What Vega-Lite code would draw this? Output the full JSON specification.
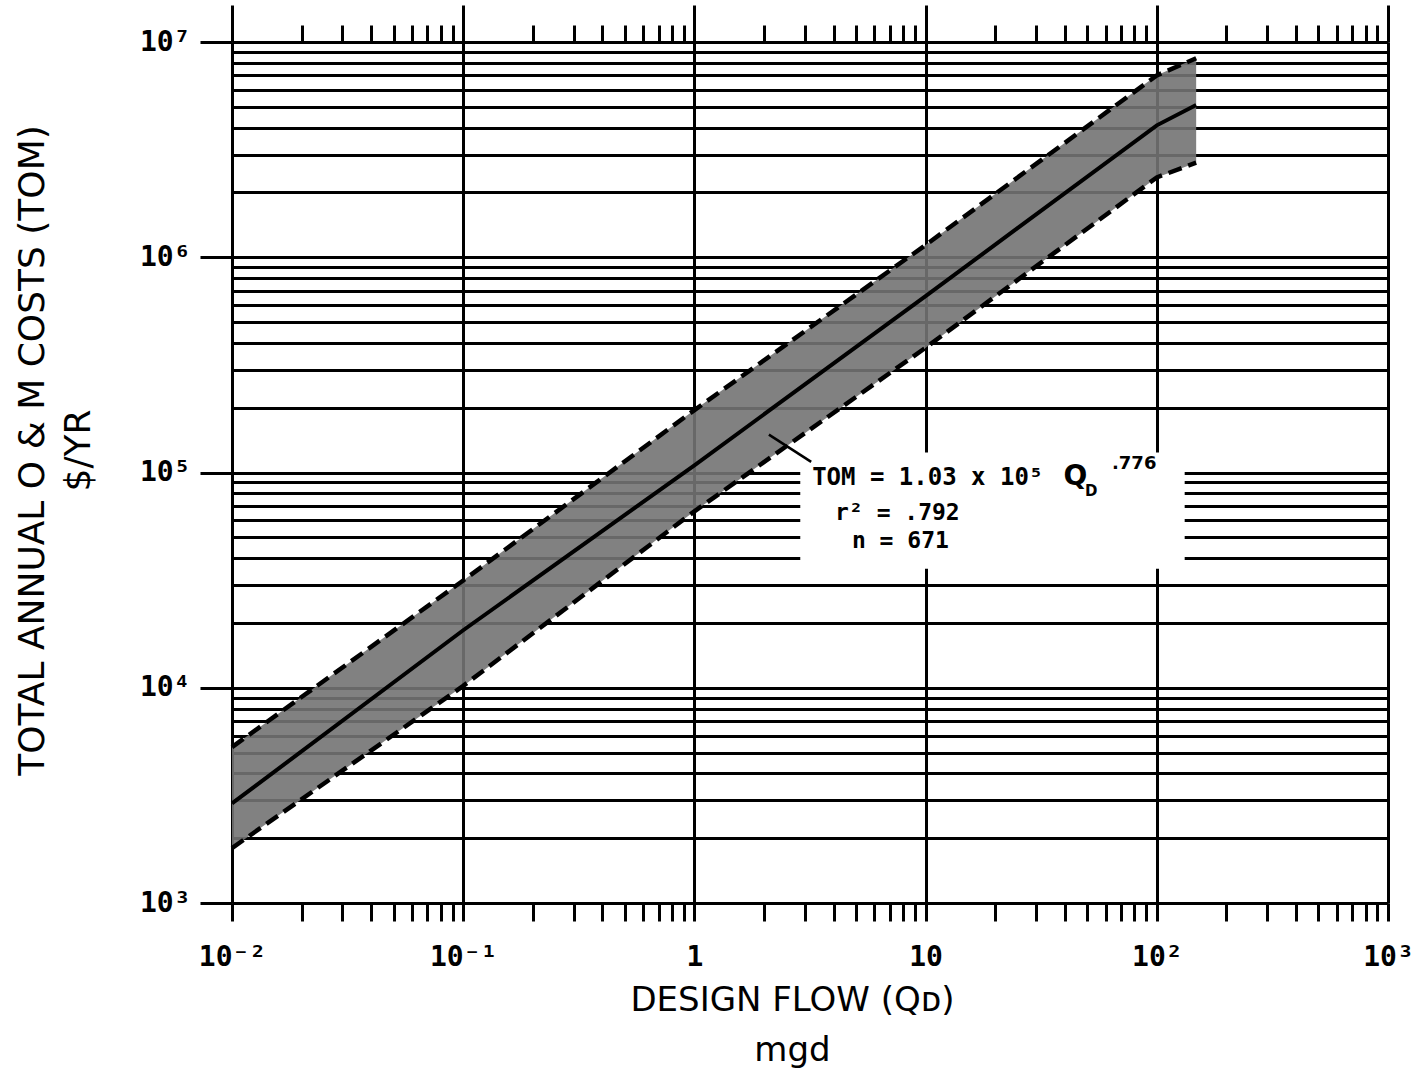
{
  "$schema": "https://vega.github.io/schema/vega-lite/v6.json",
  "width": 1156,
  "height": 861,
  "autosize": {"type": "none"},
  "padding": {"left": 232, "top": 42, "right": 39, "bottom": 168},
  "background": "white",
  "config": {"view": {"stroke": null}},
  "datasets": {
    "band": [
      {"Q": 0.01, "lo": 1800, "mid": 2900, "hi": 5300},
      {"Q": 0.1, "lo": 10200, "mid": 18500, "hi": 31500},
      {"Q": 1, "lo": 66000, "mid": 108000, "hi": 195000},
      {"Q": 10, "lo": 380000, "mid": 660000, "hi": 1140000},
      {"Q": 100, "lo": 2350000, "mid": 4100000, "hi": 7000000},
      {"Q": 148, "lo": 2750000, "mid": 5100000, "hi": 8400000}
    ]
  },
  "layer": [
    {
      "data": {"name": "band"},
      "mark": {"type": "area", "color": "#737373", "opacity": 0.9},
      "encoding": {
        "x": {
          "field": "Q", "type": "quantitative",
          "scale": {"type": "log", "domain": [0.01, 1000]},
          "axis": {
            "orient": "bottom",
            "values": [0.01,0.02,0.03,0.04,0.05,0.06,0.07,0.08,0.09,0.1,0.2,0.3,0.4,0.5,0.6,0.7,0.8,0.9,1,2,3,4,5,6,7,8,9,10,20,30,40,50,60,70,80,90,100,200,300,400,500,600,700,800,900,1000],
            "domain": false,
            "grid": true,
            "gridColor": "black",
            "gridWidth": 3,
            "gridOpacity": {"condition": {"test": "abs(log(datum.value)/LN10 - round(log(datum.value)/LN10)) < 0.001", "value": 1}, "value": 0},
            "ticks": true,
            "tickColor": "black",
            "tickWidth": 3,
            "tickSize": 18,
            "labelExpr": "abs(log(datum.value)/LN10 - round(log(datum.value)/LN10)) > 0.001 ? '' : round(log(datum.value)/LN10) == -2 ? '10⁻²' : round(log(datum.value)/LN10) == -1 ? '10⁻¹' : round(log(datum.value)/LN10) == 0 ? '1' : round(log(datum.value)/LN10) == 1 ? '10' : round(log(datum.value)/LN10) == 2 ? '10²' : '10³'",
            "labelFont": "DejaVu Sans Mono",
            "labelFontSize": 28,
            "labelFontWeight": "bold",
            "labelColor": "black",
            "labelBaseline": "alphabetic",
            "labelPadding": 44,
            "labelOverlap": false,
            "labelBound": false,
            "labelFlush": false,
            "title": ["DESIGN FLOW (Qᴅ)", "mgd"],
            "titleFont": "DejaVu Sans",
            "titleFontSize": 34,
            "titleFontWeight": "normal",
            "titleColor": "black",
            "titleBaseline": "alphabetic",
            "titleX": 560,
            "titleY": 107,
            "titleLineHeight": 50
          }
        },
        "y": {
          "field": "lo", "type": "quantitative",
          "scale": {"type": "log", "domain": [1000, 10000000]},
          "axis": {
            "orient": "left",
            "values": [1000,2000,3000,4000,5000,6000,7000,8000,9000,10000,20000,30000,40000,50000,60000,70000,80000,90000,100000,200000,300000,400000,500000,600000,700000,800000,900000,1000000,2000000,3000000,4000000,5000000,6000000,7000000,8000000,9000000,10000000],
            "domain": false,
            "grid": true,
            "gridColor": "black",
            "gridWidth": 3,
            "gridOpacity": 1,
            "tickColor": "black",
            "tickWidth": 3,
            "tickSize": 32,
            "tickOpacity": {"condition": {"test": "abs(log(datum.value)/LN10 - round(log(datum.value)/LN10)) < 0.001", "value": 1}, "value": 0},
            "labelExpr": "abs(log(datum.value)/LN10 - round(log(datum.value)/LN10)) > 0.001 ? '' : round(log(datum.value)/LN10) == 3 ? '10³' : round(log(datum.value)/LN10) == 4 ? '10⁴' : round(log(datum.value)/LN10) == 5 ? '10⁵' : round(log(datum.value)/LN10) == 6 ? '10⁶' : '10⁷'",
            "labelFont": "DejaVu Sans Mono",
            "labelFontSize": 28,
            "labelFontWeight": "bold",
            "labelColor": "black",
            "labelBaseline": "alphabetic",
            "labelOffset": 8,
            "labelPadding": 10,
            "labelOverlap": false,
            "labelBound": false,
            "labelFlush": false,
            "title": ["TOTAL ANNUAL O & M COSTS (TOM)", "$/YR"],
            "titleFont": "DejaVu Sans",
            "titleFontSize": 36,
            "titleFontWeight": "normal",
            "titleColor": "black",
            "titleBaseline": "top",
            "titleX": -217,
            "titleY": 408,
            "titleLineHeight": 46
          }
        },
        "y2": {"field": "hi"}
      }
    },
    {
      "data": {"name": "band"},
      "mark": {"type": "line", "color": "black", "strokeWidth": 4.5, "strokeDash": [14, 7]},
      "encoding": {
        "x": {
          "field": "Q", "type": "quantitative",
          "axis": {
            "orient": "top",
            "values": [0.01,0.02,0.03,0.04,0.05,0.06,0.07,0.08,0.09,0.1,0.2,0.3,0.4,0.5,0.6,0.7,0.8,0.9,1,2,3,4,5,6,7,8,9,10,20,30,40,50,60,70,80,90,100,200,300,400,500,600,700,800,900,1000],
            "domain": false,
            "grid": false,
            "labels": false,
            "tickColor": "black",
            "tickWidth": 3,
            "tickSize": {"condition": {"test": "abs(log(datum.value)/LN10 - round(log(datum.value)/LN10)) < 0.001", "value": 37}, "value": 17},
            "title": null
          }
        },
        "y": {"field": "lo", "type": "quantitative", "axis": null}
      }
    },
    {
      "data": {"name": "band"},
      "mark": {"type": "line", "color": "black", "strokeWidth": 4.5, "strokeDash": [14, 7]},
      "encoding": {
        "x": {"field": "Q", "type": "quantitative", "axis": null},
        "y": {"field": "hi", "type": "quantitative", "axis": null}
      }
    },
    {
      "data": {"name": "band"},
      "mark": {"type": "line", "color": "black", "strokeWidth": 4},
      "encoding": {
        "x": {"field": "Q", "type": "quantitative", "axis": null},
        "y": {"field": "mid", "type": "quantitative", "axis": null}
      }
    },
    {
      "data": {"values": [{"q1": 2.87, "q2": 132, "t1": 35700, "t2": 124000}]},
      "mark": {"type": "rect", "color": "white"},
      "encoding": {
        "x": {"field": "q1", "type": "quantitative", "axis": null},
        "x2": {"field": "q2"},
        "y": {"field": "t1", "type": "quantitative", "axis": null},
        "y2": {"field": "t2"}
      }
    },
    {
      "data": {"values": [{"q1": 2.1, "t1": 150000, "q2": 3.2, "t2": 112000}]},
      "mark": {"type": "rule", "color": "black", "strokeWidth": 2.5},
      "encoding": {
        "x": {"field": "q1", "type": "quantitative", "axis": null},
        "x2": {"field": "q2"},
        "y": {"field": "t1", "type": "quantitative", "axis": null},
        "y2": {"field": "t2"}
      }
    },
    {
      "data": {"values": [
        {"Q": 3.23, "TOM": 87500, "txt": "TOM = 1.03 x 10⁵"}
      ]},
      "mark": {"type": "text", "align": "left", "baseline": "alphabetic", "font": "DejaVu Sans Mono", "fontWeight": "bold", "fontSize": 24, "color": "black"},
      "encoding": {
        "x": {"field": "Q", "type": "quantitative", "axis": null},
        "y": {"field": "TOM", "type": "quantitative", "axis": null},
        "text": {"field": "txt"}
      }
    },
    {
      "data": {"values": [
        {"Q": 4.06, "TOM": 60200, "txt": "r² = .792"},
        {"Q": 4.8, "TOM": 44600, "txt": "n = 671"}
      ]},
      "mark": {"type": "text", "align": "left", "baseline": "alphabetic", "font": "DejaVu Sans Mono", "fontWeight": "bold", "fontSize": 23, "color": "black"},
      "encoding": {
        "x": {"field": "Q", "type": "quantitative", "axis": null},
        "y": {"field": "TOM", "type": "quantitative", "axis": null},
        "text": {"field": "txt"}
      }
    },
    {
      "data": {"values": [{"Q": 39.5, "TOM": 87500, "txt": "Q"}]},
      "mark": {"type": "text", "align": "left", "baseline": "alphabetic", "font": "DejaVu Sans", "fontWeight": "bold", "fontSize": 28, "color": "black"},
      "encoding": {
        "x": {"field": "Q", "type": "quantitative", "axis": null},
        "y": {"field": "TOM", "type": "quantitative", "axis": null},
        "text": {"field": "txt"}
      }
    },
    {
      "data": {"values": [{"Q": 48.9, "TOM": 78000, "txt": "D"}]},
      "mark": {"type": "text", "align": "left", "baseline": "alphabetic", "font": "DejaVu Sans", "fontWeight": "bold", "fontSize": 15, "color": "black"},
      "encoding": {
        "x": {"field": "Q", "type": "quantitative", "axis": null},
        "y": {"field": "TOM", "type": "quantitative", "axis": null},
        "text": {"field": "txt"}
      }
    },
    {
      "data": {"values": [{"Q": 64, "TOM": 104000, "txt": ".776"}]},
      "mark": {"type": "text", "align": "left", "baseline": "alphabetic", "font": "DejaVu Sans", "fontWeight": "bold", "fontSize": 18, "color": "black"},
      "encoding": {
        "x": {"field": "Q", "type": "quantitative", "axis": null},
        "y": {"field": "TOM", "type": "quantitative", "axis": null},
        "text": {"field": "txt"}
      }
    }
  ],
  "resolve": {"axis": {"x": "independent", "y": "independent"}}
}
